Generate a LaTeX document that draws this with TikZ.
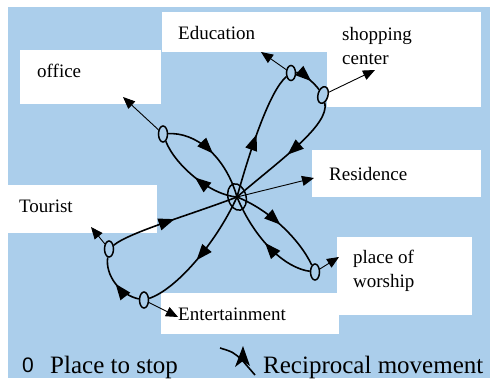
\documentclass[tikz,border=0pt]{standalone}
\usepackage{fontspec}
\setmainfont{Liberation Serif}
\newfontfamily\zerofont{Liberation Sans}
\usetikzlibrary{arrows.meta,decorations.markings,shapes.geometric}
\definecolor{bg}{RGB}{171,206,235}
\tikzset{
 box/.style={fill=white, draw=none, inner sep=0},
 lab/.style={anchor=base west, inner sep=0, font=\fontsize{19}{24}\selectfont},
 legend/.style={anchor=base west, inner sep=0, font=\fontsize{25}{30}\selectfont},
 stop/.style={ellipse, draw, line width=1.5pt, minimum width=9pt, minimum height=16pt, inner sep=0},
 route/.style={line width=1.6pt},
 mid/.style={postaction={decorate}, decoration={markings, mark=at position #1 with {\arrow{Triangle[length=16pt,width=12pt]}}}},
 pointer/.style={line width=0.9pt, -{Triangle[length=12pt,width=10pt]}},
}
\begin{document}
\begin{tikzpicture}[x=1pt,y=-1pt]
\useasboundingbox (0,0) rectangle (490,378);
\fill[bg] (8,7) rectangle (490,378);
% label boxes
\node[box, minimum width=141pt, minimum height=54pt] (officebox) at (90.5,77) {};
\node[box, minimum width=165pt, minimum height=40pt] (edubox) at (244.5,32) {};
\node[box, minimum width=154pt, minimum height=95pt] (shopbox) at (404,59.5) {};
\node[box, minimum width=169pt, minimum height=47pt] (resbox) at (396.5,173.5) {};
\node[box, minimum width=149pt, minimum height=48pt] (tourbox) at (82.5,209) {};
\node[box, minimum width=178pt, minimum height=41pt] (entbox) at (250,313.5) {};
\node[box, minimum width=135pt, minimum height=78pt] (worbox) at (404.5,276) {};
% label texts
\node[lab] (office) at (37,77) {office};
\node[lab] (edu) at (178,39) {Education};
\node[lab] (shop1) at (342,40) {shopping};
\node[lab] (shop2) at (342,64) {center};
\node[lab] (res) at (329,180) {Residence};
\node[lab] (tour) at (19,212) {Tourist};
\node[lab] (ent) at (178,320) {Entertainment};
\node[lab] (wor1) at (353,263) {place of};
\node[lab] (wor2) at (353,287) {worship};
% stops
\node[ellipse, draw, line width=1.5pt, minimum width=18pt, minimum height=27pt, inner sep=0, rotate=15] (c) at (237,197) {};
\node[stop] (ostop) at (163,134) {};
\node[stop, minimum height=15pt] (estop) at (291,73) {};
\node[stop, minimum width=10pt, minimum height=17pt, rotate=-15] (sstop) at (323,95) {};
\node[stop] (tstop) at (109,249) {};
\node[stop] (enstop) at (144,300) {};
\node[stop] (wstop) at (315,272) {};
% pointers
\coordinate (otip) at (123,97);
\coordinate (etip) at (261,52);
\coordinate (stip) at (375,70);
\coordinate (rtip) at (314,178);
\coordinate (ttip) at (91,227);
\coordinate (entip) at (178,317);
\coordinate (wtip) at (339,257);
\draw[pointer] (ostop) -- (otip);
\draw[pointer] (estop) -- (etip);
\draw[pointer] (sstop) -- (stip);
\draw[pointer] (c.center) -- (rtip);
\draw[pointer] (tstop) -- (ttip);
\draw[pointer] (enstop) -- (entip);
\draw[pointer] (wstop) -- (wtip);
% routes
\draw[route, mid=0.5] (ostop) .. controls (195,132) and (225,155) .. (c.center);
\draw[route, mid=0.5] (c.center) .. controls (210,195) and (175,165) .. (ostop);
\draw[route, mid=0.5] (c.center) .. controls (250,150) and (270,90) .. (estop);
\draw[route, mid=0.6] (estop) .. controls (300,72) and (312,80) .. (sstop);
\draw[route, mid=0.5] (sstop) .. controls (330,125) and (280,160) .. (c.center);
\draw[route, mid=0.5] (tstop) .. controls (130,232) and (190,215) .. (c.center);
\draw[route, mid=0.55] (c.center) .. controls (215,245) and (175,290) .. (enstop);
\draw[route, mid=0.5] (enstop) .. controls (120,295) and (105,275) .. (tstop);
\draw[route, mid=0.5] (c.center) .. controls (270,210) and (300,240) .. (wstop);
\draw[route, mid=0.5] (wstop) .. controls (285,268) and (255,240) .. (c.center);
% legend
\node[anchor=base west, inner sep=0, font=\zerofont\fontsize{21}{26}\selectfont] (lzero) at (22,372) {0};
\node[legend] (lstop) at (50,373) {Place to stop};
\coordinate (m1) at (220,348);
\coordinate (mb) at (242,360);
\coordinate (m2) at (255,375);
\draw[route] (m1) .. controls (233,352) .. (mb) -- (m2);
\fill (243,346) -- (250,366) -- (243,361) -- (235,367) -- cycle;
\node[legend] (lmove) at (263,373) {Reciprocal movement};
\end{tikzpicture}
\end{document}
